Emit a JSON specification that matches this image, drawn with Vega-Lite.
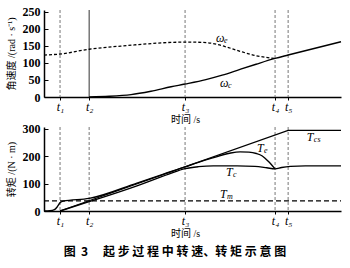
{
  "$schema": "https://vega.github.io/schema/vega-lite/v6.json",
  "padding": {"left": 6, "top": 5, "right": 5, "bottom": 5},
  "bounds": "flush",
  "spacing": 30,
  "config": {"view": {"stroke": null}, "font": "Liberation Serif"},
  "title": {"text": "图\u00a0\u00a03\u3000\u00a0起\u00a0步\u00a0过\u00a0程\u00a0中\u00a0转\u00a0速、转\u00a0矩\u00a0示\u00a0意\u00a0图", "orient": "bottom", "font": "Noto Sans CJK SC", "fontSize": 12, "fontWeight": "bold", "color": "black", "offset": 9, "anchor": "middle"},
  "datasets": {
    "marks": [{"t": 5.4}, {"t": 15.2}, {"t": 47.5}, {"t": 77.8}, {"t": 82.2}],
    "omega": [
      {"s": "we", "t": 0, "v": 123}, {"s": "we", "t": 5.4, "v": 126}, {"s": "we", "t": 15.2, "v": 140}, {"s": "we", "t": 28.3, "v": 151}, {"s": "we", "t": 42.8, "v": 160}, {"s": "we", "t": 49, "v": 161}, {"s": "we", "t": 55, "v": 159}, {"s": "we", "t": 58, "v": 155}, {"s": "we", "t": 61.3, "v": 147}, {"s": "we", "t": 66, "v": 134}, {"s": "we", "t": 71.4, "v": 121}, {"s": "we", "t": 77.8, "v": 113},
      {"s": "wc", "t": 15.2, "v": 0}, {"s": "wc", "t": 22, "v": 2}, {"s": "wc", "t": 29.3, "v": 7}, {"s": "wc", "t": 36, "v": 17}, {"s": "wc", "t": 42.8, "v": 30}, {"s": "wc", "t": 47.5, "v": 38}, {"s": "wc", "t": 54.5, "v": 51}, {"s": "wc", "t": 60, "v": 64}, {"s": "wc", "t": 66, "v": 81}, {"s": "wc", "t": 71.4, "v": 96}, {"s": "wc", "t": 77.8, "v": 113}, {"s": "wc", "t": 82.2, "v": 123}, {"s": "wc", "t": 100, "v": 162}
    ],
    "torque": [
      {"s": "Tcs", "t": 5.4, "v": 0}, {"s": "Tcs", "t": 82.2, "v": 295}, {"s": "Tcs", "t": 100, "v": 295},
      {"s": "Tm", "t": 0, "v": 37}, {"s": "Tm", "t": 100, "v": 37},
      {"s": "Tc", "t": 5.4, "v": 0}, {"s": "Tc", "t": 15.2, "v": 34}, {"s": "Tc", "t": 31.3, "v": 92}, {"s": "Tc", "t": 42, "v": 135}, {"s": "Tc", "t": 47.5, "v": 155}, {"s": "Tc", "t": 52, "v": 162}, {"s": "Tc", "t": 57, "v": 165}, {"s": "Tc", "t": 65, "v": 165}, {"s": "Tc", "t": 71, "v": 163}, {"s": "Tc", "t": 75, "v": 158}, {"s": "Tc", "t": 77.8, "v": 154}, {"s": "Tc", "t": 80, "v": 159}, {"s": "Tc", "t": 83, "v": 163}, {"s": "Tc", "t": 88, "v": 165}, {"s": "Tc", "t": 100, "v": 165},
      {"s": "Te", "t": 0, "v": 0}, {"s": "Te", "t": 2, "v": 1}, {"s": "Te", "t": 3.5, "v": 5}, {"s": "Te", "t": 4.5, "v": 16}, {"s": "Te", "t": 5.4, "v": 30}, {"s": "Te", "t": 6.5, "v": 36}, {"s": "Te", "t": 15.2, "v": 46}, {"s": "Te", "t": 31.3, "v": 102}, {"s": "Te", "t": 40, "v": 134}, {"s": "Te", "t": 47.5, "v": 161}, {"s": "Te", "t": 52, "v": 178}, {"s": "Te", "t": 56.5, "v": 193}, {"s": "Te", "t": 62.5, "v": 211}, {"s": "Te", "t": 66, "v": 216}, {"s": "Te", "t": 69, "v": 215}, {"s": "Te", "t": 71.5, "v": 210}, {"s": "Te", "t": 73.5, "v": 201}, {"s": "Te", "t": 75.5, "v": 182}, {"s": "Te", "t": 77.8, "v": 154}
    ],
    "toplabels": [
      {"t": 57.9, "v": 173, "base": "ω", "sub": "e"},
      {"t": 59.3, "v": 41, "base": "ω", "sub": "c"}
    ],
    "botlabels": [
      {"t": 88.5, "v": 271, "base": "T", "sub": "cs"},
      {"t": 71.7, "v": 231, "base": "T", "sub": "e"},
      {"t": 61.3, "v": 143, "base": "T", "sub": "c"},
      {"t": 59.3, "v": 62, "base": "T", "sub": "m"}
    ]
  },
  "vconcat": [
    {
      "width": 297,
      "height": 87,
      "encoding": {
        "x": {"field": "t", "type": "quantitative", "scale": {"domain": [0, 100], "nice": false, "zero": false},
          "axis": {"values": [5.4, 15.2, 47.5, 77.8, 82.2], "labelExpr": "datum.value < 10 ? 't₁' : datum.value < 20 ? 't₂' : datum.value < 60 ? 't₃' : datum.value < 80 ? 't₄' : 't₅'", "title": "时间 /s", "labelFont": "Liberation Serif, DejaVu Serif", "labelFontStyle": "italic", "labelFontSize": 12, "labelColor": "black", "labelOverlap": false, "tickSize": 3, "tickColor": "black", "labelPadding": 1, "domainWidth": 1.5, "domainColor": "black", "titleFont": "Liberation Serif, Noto Sans CJK SC", "titleFontSize": 10, "titleFontWeight": "normal", "titleColor": "black", "titlePadding": 2, "titleX": 141, "grid": false}},
        "y": {"field": "v", "type": "quantitative", "scale": {"domain": [0, 255], "nice": false},
          "axis": {"values": [0, 50, 100, 150, 200, 250], "labelOverlap": false, "title": "角速度 /(rad · s⁻¹)", "titleFont": "Liberation Serif, Noto Sans CJK SC", "titleFontSize": 10, "titleFontWeight": "normal", "titleColor": "black", "titlePadding": 6, "labelFont": "Liberation Serif", "labelFontSize": 12, "labelFontWeight": "bold", "labelColor": "black", "tickSize": -4, "tickColor": "black", "labelPadding": 8, "domainColor": "black", "domainWidth": 1.5, "grid": false}}
      },
      "layer": [
        {"data": {"name": "marks"}, "transform": [{"filter": "datum.t != 15.2"}], "mark": {"type": "rule", "strokeDash": [3, 2], "color": "#777", "strokeWidth": 1}, "encoding": {"y": null}},
        {"data": {"name": "marks"}, "transform": [{"filter": "datum.t == 15.2"}], "mark": {"type": "rule", "color": "#333", "strokeWidth": 1}, "encoding": {"y": null}},
        {"data": {"name": "omega"}, "transform": [{"filter": "datum.s == 'we'"}], "mark": {"type": "line", "interpolate": "monotone", "color": "black", "strokeWidth": 1.3, "strokeDash": [3, 2]}, "encoding": {}},
        {"data": {"name": "omega"}, "transform": [{"filter": "datum.s == 'wc'"}], "mark": {"type": "line", "interpolate": "monotone", "color": "black", "strokeWidth": 1.4}, "encoding": {}},
        {"data": {"name": "toplabels"}, "mark": {"type": "text", "align": "left", "baseline": "middle", "font": "Liberation Serif", "fontSize": 12, "fontStyle": "italic", "color": "black"},
          "encoding": {"text": {"field": "base"}}},
        {"data": {"name": "toplabels"}, "mark": {"type": "text", "align": "left", "baseline": "middle", "font": "Liberation Serif", "fontSize": 8, "fontStyle": "italic", "color": "black", "dx": 8, "dy": 3},
          "encoding": {"text": {"field": "sub"}}}
      ]
    },
    {
      "width": 297,
      "height": 84,
      "encoding": {
        "x": {"field": "t", "type": "quantitative", "scale": {"domain": [0, 100], "nice": false, "zero": false},
          "axis": {"values": [5.4, 15.2, 47.5, 77.8, 82.2], "labelExpr": "datum.value < 10 ? 't₁' : datum.value < 20 ? 't₂' : datum.value < 60 ? 't₃' : datum.value < 80 ? 't₄' : 't₅'", "title": "时间 /s", "labelFont": "Liberation Serif, DejaVu Serif", "labelFontStyle": "italic", "labelFontSize": 12, "labelColor": "black", "labelOverlap": false, "tickSize": 3, "tickColor": "black", "labelPadding": 1, "domainWidth": 1.5, "domainColor": "black", "titleFont": "Liberation Serif, Noto Sans CJK SC", "titleFontSize": 10, "titleFontWeight": "normal", "titleColor": "black", "titlePadding": 2, "titleX": 141, "grid": false}},
        "y": {"field": "v", "type": "quantitative", "scale": {"domain": [0, 307], "nice": false},
          "axis": {"values": [0, 100, 200, 300], "labelOverlap": false, "title": "转矩 /(N · m)", "titleFont": "Liberation Serif, Noto Sans CJK SC", "titleFontSize": 10, "titleFontWeight": "normal", "titleColor": "black", "titlePadding": 6, "labelFont": "Liberation Serif", "labelFontSize": 12, "labelFontWeight": "bold", "labelColor": "black", "tickSize": -4, "tickColor": "black", "labelPadding": 8, "domainColor": "black", "domainWidth": 1.5, "grid": false}}
      },
      "layer": [
        {"data": {"name": "marks"}, "mark": {"type": "rule", "strokeDash": [3, 2], "color": "#777", "strokeWidth": 1}, "encoding": {"y": null}},
        {"data": {"name": "torque"}, "transform": [{"filter": "datum.s == 'Tcs'"}], "mark": {"type": "line", "color": "black", "strokeWidth": 1.3}, "encoding": {}},
        {"data": {"name": "torque"}, "transform": [{"filter": "datum.s == 'Tm'"}], "mark": {"type": "line", "color": "black", "strokeWidth": 1.1, "strokeDash": [5, 3]}, "encoding": {}},
        {"data": {"name": "torque"}, "transform": [{"filter": "datum.s == 'Tc' || datum.s == 'Te'"}], "mark": {"type": "line", "interpolate": "monotone", "color": "black", "strokeWidth": 1.4}, "encoding": {"detail": {"field": "s"}}},
        {"data": {"name": "botlabels"}, "mark": {"type": "text", "align": "left", "baseline": "middle", "font": "Liberation Serif", "fontSize": 12, "fontStyle": "italic", "color": "black"},
          "encoding": {"text": {"field": "base"}}},
        {"data": {"name": "botlabels"}, "mark": {"type": "text", "align": "left", "baseline": "middle", "font": "Liberation Serif", "fontSize": 8, "fontStyle": "italic", "color": "black", "dx": 7, "dy": 3},
          "encoding": {"text": {"field": "sub"}}}
      ]
    }
  ]
}
